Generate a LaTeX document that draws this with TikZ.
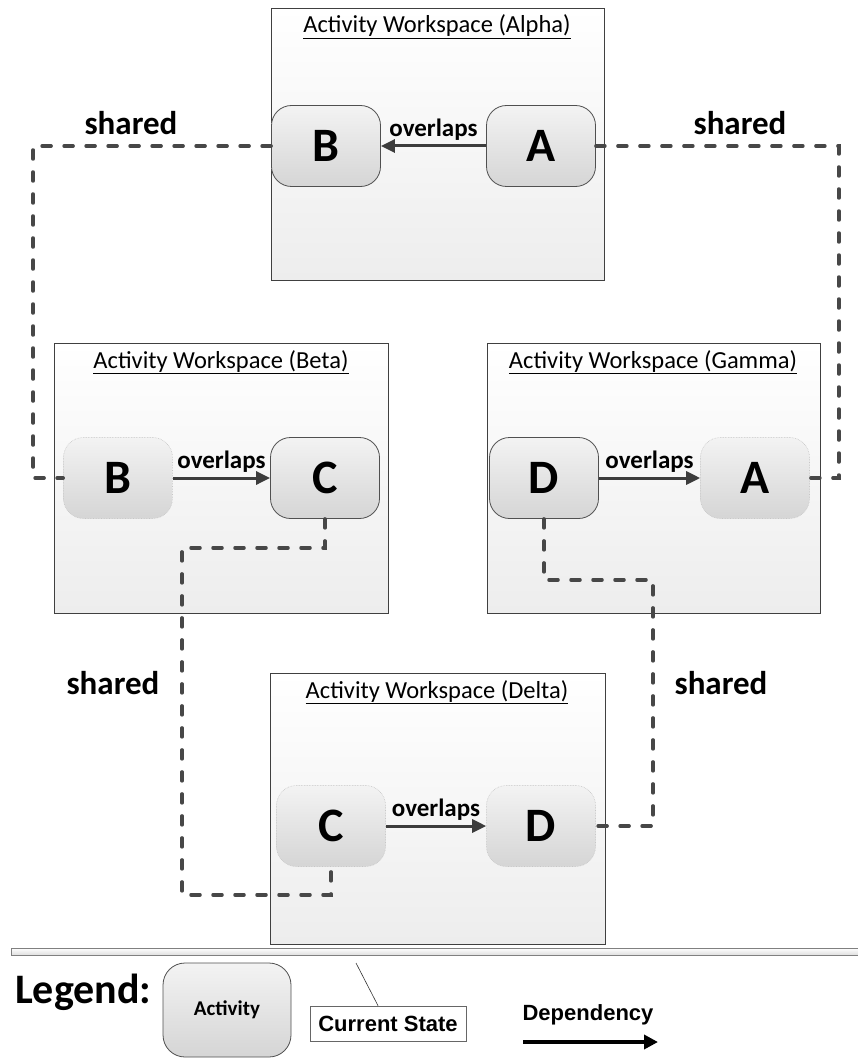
\documentclass[tikz,border=0pt]{standalone}
\usepackage{fontspec}
\setmainfont{Carlito}
\newfontfamily\arialfont{Liberation Sans}
\usetikzlibrary{arrows.meta}
\definecolor{lineg}{HTML}{474747}
\definecolor{arrg}{HTML}{3C3C3C}
\definecolor{boxedge}{HTML}{404040}
\definecolor{edgedark}{HTML}{505050}
\definecolor{nodetop}{HTML}{F3F3F3}
\definecolor{nodebot}{HTML}{D5D5D5}
\definecolor{wsbot}{HTML}{EDEDED}
\begin{document}
\begin{tikzpicture}[x=1pt,y=-1pt,
 wsbox/.style={draw=boxedge, line width=0.9pt, top color=white, bottom color=wsbot, anchor=north west, inner sep=0},
 wstitle/.style={anchor=base, inner sep=0, font=\fontsize{24.5}{28}\selectfont},
 act/.style={rounded corners=20pt, minimum width=109pt, minimum height=81pt, inner sep=0, top color=nodetop, bottom color=nodebot, font=\bfseries\fontsize{48}{54}\selectfont},
 cur/.style={act, draw=edgedark, line width=0.8pt},
 past/.style={act, draw=gray!45, densely dotted, line width=0.6pt},
 ovl/.style={draw=arrg, line width=3pt, -{Triangle[length=14pt,width=13pt]}},
 ovlbl/.style={font=\bfseries\fontsize{25}{28}\selectfont, inner sep=0, above=4pt, midway, text=black},
 shareline/.style={draw=lineg, line width=3.5pt, line cap=round, dash pattern=on 9pt off 13pt},
 sharelbl/.style={font=\bfseries\fontsize{33}{36}\selectfont, inner sep=0},
]
\useasboundingbox (0,0) rectangle (857,1059);
\fill[white] (0,0) rectangle (857,1059);

% workspaces
\node[wsbox, minimum width=333pt, minimum height=272pt] (wsA) at (271,8) {};
\node[wsbox, minimum width=334pt, minimum height=270pt] (wsB) at (54,343) {};
\node[wsbox, minimum width=333pt, minimum height=270pt] (wsG) at (487,343) {};
\node[wsbox, minimum width=335pt, minimum height=271pt] (wsD) at (270,673) {};

\node[wstitle] (tA) at (437,33) {\underline{Activity Workspace (Alpha)}};
\node[wstitle] (tB) at (221,368) {\underline{Activity Workspace (Beta)}};
\node[wstitle] (tG) at (653,368) {\underline{Activity Workspace (Gamma)}};
\node[wstitle] (tD) at (437,698) {\underline{Activity Workspace (Delta)}};

% activities
\node[cur]  (aB) at (326,146) {B};
\node[cur]  (aA) at (541,146) {A};
\node[past] (bB) at (118,478) {B};
\node[cur]  (bC) at (325,478) {C};
\node[cur]  (gD) at (544,478) {D};
\node[past] (gA) at (755,478) {A};
\node[past] (dC) at (331,826) {C};
\node[past] (dD) at (541,826) {D};

% overlaps
\draw[ovl] (aA.west) -- (aB.east) node[ovlbl] (oA) {overlaps};
\draw[ovl] (bB.east) -- (bC.west) node[ovlbl] (oB) {overlaps};
\draw[ovl] (gD.east) -- (gA.west) node[ovlbl] (oG) {overlaps};
\draw[ovl] (dC.east) -- (dD.west) node[ovlbl] (oD) {overlaps};

% shared
\draw[shareline] (aB.west) -- ++(-238,0) |- (bB.west);
\draw[shareline] (aA.east) -- ++(243,0) |- (gA.east);
\draw[shareline] (bC.south) -- ++(0,29) -| ++(-143,347) -| (dC.south);
\draw[shareline] (gD.south) -- ++(0,61) -- ++(109,0) |- (dD.east);

\node[sharelbl] (s1) at (131,123) {shared};
\node[sharelbl] (s2) at (740,123) {shared};
\node[sharelbl] (s3) at (113,683) {shared};
\node[sharelbl] (s4) at (721,683) {shared};

% separator
\draw[draw=gray, line width=0.8pt, top color=white, bottom color=gray!25] (11,948) rectangle (870,955);

% legend
\node[anchor=base west, inner sep=0, font=\bfseries\fontsize{42}{46}\selectfont] (leg) at (15,1003) {Legend:};
\node[draw=edgedark, line width=0.8pt, rounded corners=22pt, minimum width=128pt, minimum height=94pt, inner sep=0,
      top color=nodetop, bottom color=nodebot, font=\bfseries\fontsize{21}{24}\selectfont] (lact) at (227,1010) {Activity};
\node[draw=gray!80!black, line width=0.7pt, fill=white, minimum width=156pt, minimum height=35pt, inner sep=0,
      font=\arialfont\bfseries\fontsize{22}{24}\selectfont] (cs) at (388,1023.5) {Current State};
\coordinate (csTip) at (356,963);
\draw[black!80, line width=0.6pt] (csTip) -- ([xshift=-10pt]cs.north);
\node[font=\arialfont\bfseries\fontsize{22}{24}\selectfont, inner sep=0] (dep) at (588,1015) {Dependency};
\coordinate (depS) at (523,1042);
\coordinate (depE) at (658,1042);
\draw[black, line width=4pt, -{Triangle[length=14pt,width=14pt]}] (depS) -- (depE);
\end{tikzpicture}
\end{document}
